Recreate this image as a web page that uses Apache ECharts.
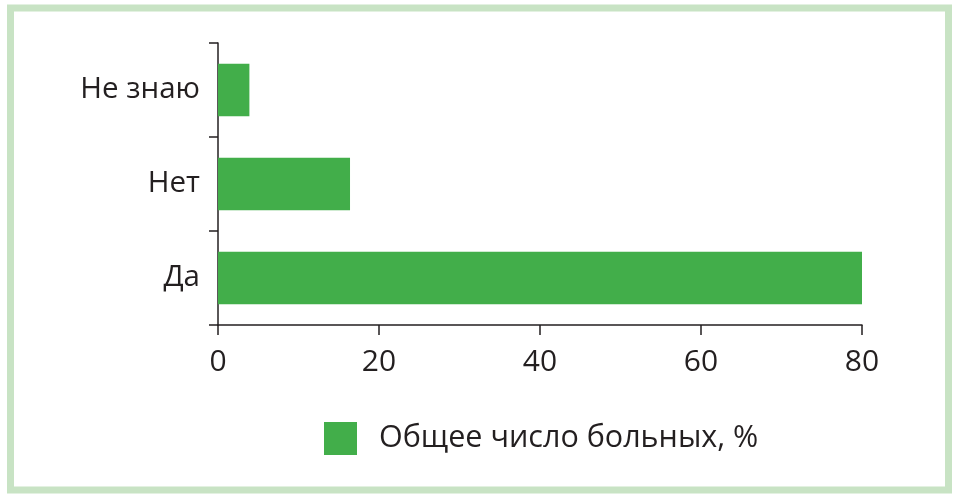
<!DOCTYPE html>
<html>
<head>
<meta charset="utf-8">
<script src="https://cdn.jsdelivr.net/npm/echarts@6/dist/echarts.min.js"></script>
<style>html,body{margin:0;padding:0;background:#fff}#c{width:960px;height:500px}</style>
</head>
<body>
<div id="c"></div>
<script>
var categories = ['Да', 'Нет', 'Не знаю'];
var values = [80, 16.4, 3.9];
var seriesName = 'Общее число больных, %';
var xTicks = [0, 20, 40, 60, 80];

var chart = echarts.init(document.getElementById('c'));
var txt = '#231f20';
var font = 'Open Sans';
chart.setOption({
  animation: false,
  graphic: [{
    type: 'rect', shape: { x: 10.5, y: 8, width: 938, height: 482 },
    style: { fill: 'none', stroke: '#c8e3c4', lineWidth: 7 }, silent: true
  }],
  grid: { left: 218, right: 98, top: 43, bottom: 175 },
  legend: {
    left: 324, top: 422, padding: 0, itemWidth: 33, itemHeight: 33, icon: 'rect',
    textStyle: { fontSize: 30.5, color: txt, fontFamily: font, padding: [0, 0, 0, 17] },
    data: [seriesName]
  },
  xAxis: {
    type: 'value', min: xTicks[0], max: xTicks[xTicks.length - 1], interval: 20,
    splitLine: { show: false },
    axisLine: { show: true, lineStyle: { color: txt, width: 1.5 } },
    axisTick: { show: true, length: 10, lineStyle: { color: txt, width: 1.5 } },
    axisLabel: { fontSize: 30, color: txt, fontFamily: font, margin: 22 }
  },
  yAxis: {
    type: 'category', data: categories,
    axisLine: { show: true, lineStyle: { color: txt, width: 1.5 } },
    axisTick: { show: true, length: 9, lineStyle: { color: txt, width: 1.5 } },
    axisLabel: { fontSize: 29.5, color: txt, fontFamily: font, margin: 18 }
  },
  series: [{
    name: seriesName, type: 'bar', data: values, barCategoryGap: '44%',
    itemStyle: { color: '#42ae4a' }
  }]
});
</script>
</body>
</html>
